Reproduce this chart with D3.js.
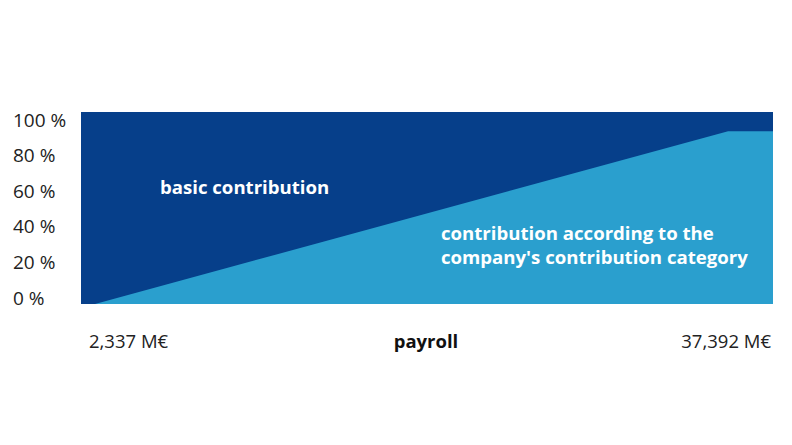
<!DOCTYPE html>
<html>
<head>
<meta charset="utf-8">
<script src="https://cdn.jsdelivr.net/npm/d3@7"></script>
<style>
  body { margin: 0; background: #fff; }
  text { font-family: "Open Sans", "Noto Sans", sans-serif; }
</style>
</head>
<body>
<svg id="chart" width="792" height="445"></svg>
<script>
// payroll in M€ (edges of the plot extend slightly past the labelled values)
const payroll = [1560, 2337, 37392, 39880];
// share (%) of the company-category contribution at each payroll point
const categoryShare = [0, 0, 90, 90];
const yTicks = [0, 20, 40, 60, 80, 100];
const startLabel = "2,337 M€";
const endLabel = "37,392 M€";

const svg = d3.select("#chart");
const margin = { top: 112, right: 19, bottom: 141, left: 81 };
const width = +svg.attr("width");
const height = +svg.attr("height");

const data = payroll.map((p, i) => ({ p, share: categoryShare[i] }));

const x = d3.scaleLinear()
  .domain(d3.extent(payroll))
  .range([margin.left, width - margin.right]);

const y = d3.scaleLinear()
  .domain([0, 100])
  .range([height - margin.bottom, margin.top]);

// tick labels sit slightly inside the plot's vertical extent
const yLabel = d3.scaleLinear()
  .domain([0, 100])
  .range([298, 120]);

// basic contribution fills everything, the category share is drawn on top
svg.append("path")
  .datum(data)
  .attr("fill", "#063f8a")
  .attr("d", d3.area().x(d => x(d.p)).y0(y(0)).y1(y(100)));

svg.append("path")
  .datum(data)
  .attr("fill", "#2a9fce")
  .attr("d", d3.area().x(d => x(d.p)).y0(y(0)).y1(d => y(d.share)));

// y labels
svg.append("g")
  .selectAll("text")
  .data(yTicks)
  .join("text")
  .attr("x", 13)
  .attr("y", d => yLabel(d))
  .attr("dy", "0.35em")
  .attr("font-size", 19)
  .attr("fill", "#222")
  .text(d => `${d} %`);

// series labels
svg.append("text")
  .attr("x", 160)
  .attr("y", 194)
  .attr("font-size", 18.6)
  .attr("font-weight", "bold")
  .attr("fill", "#fff")
  .text("basic contribution");

svg.append("text")
  .attr("x", 441)
  .attr("y", 240)
  .attr("font-size", 18.6)
  .attr("font-weight", "bold")
  .attr("fill", "#fff")
  .selectAll("tspan")
  .data(["contribution according to the", "company's contribution category"])
  .join("tspan")
  .attr("x", 441)
  .attr("dy", (d, i) => i ? 24 : 0)
  .text(d => d);

// x labels
svg.append("text")
  .attr("x", 89)
  .attr("y", 348)
  .attr("font-size", 18.5)
  .attr("fill", "#222")
  .text(startLabel);

svg.append("text")
  .attr("x", 426)
  .attr("y", 348)
  .attr("text-anchor", "middle")
  .attr("font-size", 18.5)
  .attr("font-weight", "bold")
  .attr("fill", "#111")
  .text("payroll");

svg.append("text")
  .attr("x", 771)
  .attr("y", 348)
  .attr("text-anchor", "end")
  .attr("font-size", 18.5)
  .attr("fill", "#222")
  .text(endLabel);
</script>
</body>
</html>
